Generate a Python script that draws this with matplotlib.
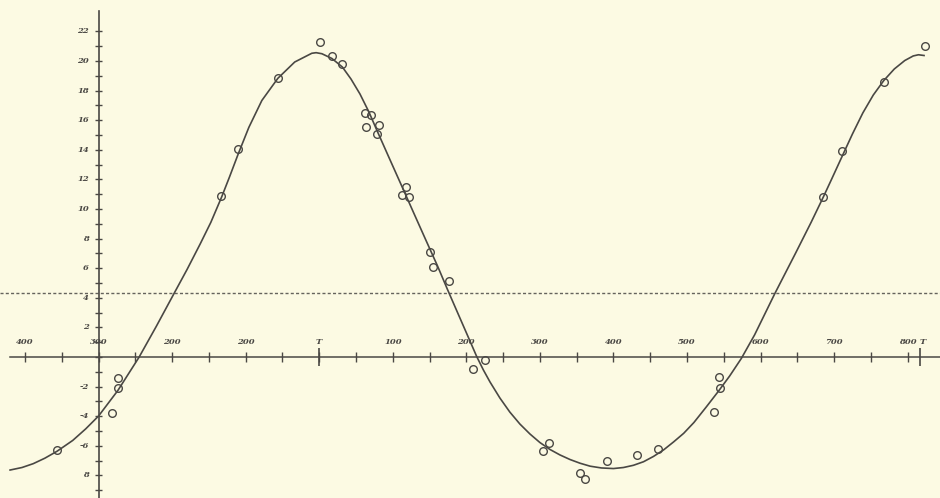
import matplotlib.pyplot as plt
import numpy as np

# smooth curve (days from T, magnitude scale)
curve_x = [-420.3, -404.1, -388.8, -373.0, -356.4, -335.1, -317.5, -300, -273.7, -245.0,
           -221.6, -197.7, -179.7, -161.8, -147.4, -132.9, -122.0, -110.1, -95.7, -78.0,
           -56.2, -33.3, -10.1, -4.2, 3.6, 17.2, 31.5, 43.2, 55.4, 67.6,
           78.8, 95.9, 112.2, 128.4, 144.6, 161.0, 174.3, 187.1, 200.8, 214.2,
           223.2, 232.2, 245.6, 259.1, 272.8, 286.4, 300, 313.7, 327.3, 341.0,
           354.6, 368.3, 383.7, 400, 413.6, 427.2, 440.9, 454.5, 468.2, 481.8,
           495.5, 509.4, 526.2, 543.0, 558.1, 573.9, 591.9, 619.6, 647.6, 668.7,
           685.1, 696.8, 710.5, 725.0, 739.1, 753.3, 767.6, 781.9, 796.1, 807.6,
           814.7, 822.3]
curve_y = [-7.64, -7.47, -7.21, -6.84, -6.37, -5.64, -4.86, -3.99, -2.26, -0.02,
           2.06, 4.26, 5.91, 7.64, 9.09, 10.78, 12.16, 13.72, 15.51, 17.33,
           18.83, 19.93, 20.52, 20.56, 20.49, 20.17, 19.59, 18.78, 17.77, 16.55,
           15.27, 13.36, 11.55, 9.74, 7.94, 6.13, 4.57, 3.11, 1.55, 0.02,
           -0.88, -1.69, -2.77, -3.72, -4.53, -5.20, -5.78, -6.25, -6.62, -6.93,
           -7.18, -7.38, -7.50, -7.54, -7.47, -7.32, -7.08, -6.72, -6.28, -5.74,
           -5.16, -4.43, -3.38, -2.30, -1.28, -0.10, 1.49, 4.30, 7.01, 9.09,
           10.78, 12.03, 13.51, 15.07, 16.49, 17.70, 18.68, 19.46, 20.03, 20.34,
           20.42, 20.37]

# observed points (open circles)
obs_x = [-356.4, -273.7, -273.7, -281.6, -132.9, -110.9, -56.2, 1.4, 17.2, 31.5,
         62.2, 70.3, 63.5, 80.8, 78.4, 118.5, 112.6, 122.0, 150, 154.4,
         176.1, 208.8, 225.9, 304.9, 312.7, 354.6, 360.9, 390.9, 432.7, 460,
         537.4, 543.4, 544.4, 685, 710.5, 767.6, 823.3]
obs_y = [-6.28, -1.40, -2.11, -3.80, 10.88, 14.03, 18.83, 21.26, 20.34, 19.80,
         16.47, 16.35, 15.54, 15.66, 15.07, 11.51, 10.97, 10.79, 7.09, 6.06,
         5.11, -0.81, -0.18, -6.33, -5.79, -7.84, -8.26, -7.01, -6.64, -6.20,
         -3.74, -1.33, -2.09, 10.79, 13.92, 18.60, 21.01]

x_label_pos = [-400, -300, -200, -100, 0, 100, 200, 300, 400, 500, 600, 700, 800, 817]
x_label_txt = ['400', '300', '200', '200', 'T', '100', '200', '300', '400', '500',
               '600', '700', '800', 'T']
y_label_pos = [22, 20, 18, 16, 14, 12, 10, 8, 6, 4, 2, -2, -4, -6, -8]
y_label_txt = ['22', '20', '18', '16', '14', '12', '10', '8', '6', '4', '2',
               '-2', '-4', '-6', '8']
mean_level = 4.3
y_axis_at = -300

ink = '#4a4844'
paper = '#fcfae3'

fig = plt.figure(figsize=(9.4, 4.98), dpi=100, facecolor=paper)
ax = fig.add_axes([0, 0, 1, 1])
ax.set_facecolor(paper)
ax.set_xlim(-434, 844)
ax.set_ylim(-9.53, 24.12)
ax.axis('off')

# dotted mean line
ax.axhline(mean_level, color=ink, lw=1.0, ls=(0, (2.2, 1.6)), alpha=0.85)

# x axis with ticks
ax.plot([-420, 844], [0, 0], color=ink, lw=1.1)
xt = np.arange(-400, 801, 50)
ax.vlines(xt, -0.33, 0.33, color=ink, lw=1.0)
ax.vlines([0, 817], -0.6, 0.6, color=ink, lw=1.2)

# y axis with ticks
ax.plot([y_axis_at, y_axis_at], [-9.6, 23.4], color=ink, lw=1.2)
yt = np.arange(-9, 23)
ax.hlines(yt, y_axis_at - 5.2, y_axis_at + 5.2, color=ink, lw=1.0)

lab = dict(color=ink, fontsize=6, family='DejaVu Serif', fontweight='bold',
           style='italic')
for xp, t in zip(x_label_pos, x_label_txt):
    dx = 3 if xp == 817 else 0
    ax.text(xp + dx, 0.75, t, ha='center', va='bottom', **lab)
for yp, t in zip(y_label_pos, y_label_txt):
    ax.text(y_axis_at - 13, yp, t, ha='right', va='center', **lab)

ax.plot(curve_x, curve_y, color=ink, lw=1.2, solid_joinstyle='round')
ax.plot(obs_x, obs_y, ls='none', marker='o', ms=5.5, mfc='none', mec=ink, mew=1.0)

fig.savefig('out.png', dpi=100, facecolor=paper)
